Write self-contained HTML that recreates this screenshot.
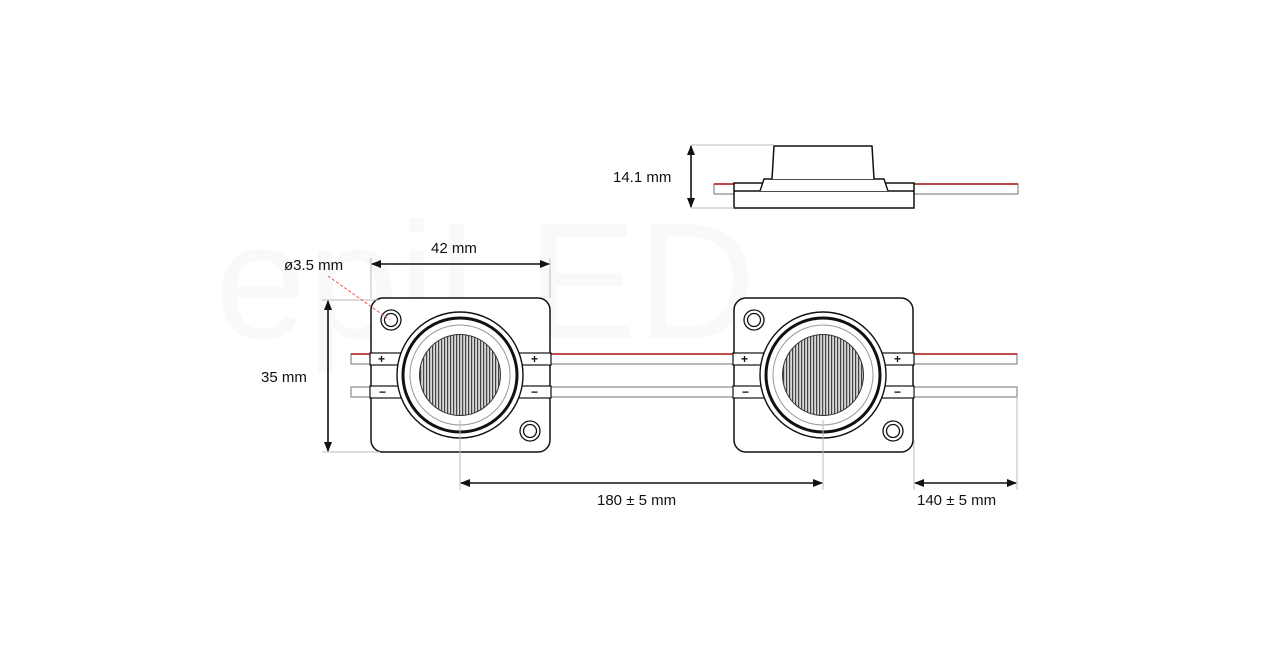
<!DOCTYPE html>
<html><head><meta charset="utf-8"><style>
html,body{margin:0;padding:0;background:#fff;}
svg{display:block;}
text{font-family:"Liberation Sans",sans-serif;font-size:15px;fill:#111;}
</style></head><body>
<svg width="1280" height="652" viewBox="0 0 1280 652" xmlns="http://www.w3.org/2000/svg">
<defs>
<pattern id="st" width="3" height="10" patternUnits="userSpaceOnUse">
<rect width="3" height="10" fill="#d8d8d8"/><rect width="1.2" height="10" fill="#444"/>
</pattern>
<marker id="ar" markerWidth="10" markerHeight="8" refX="9" refY="4" orient="auto-start-reverse" markerUnits="userSpaceOnUse">
<path d="M0,0 L10,4 L0,8 Z" fill="#111"/>
</marker>
<g id="mod">
<rect x="371" y="298" width="179" height="154" rx="12" fill="#fff" stroke="#111" stroke-width="1.5"/>
<circle cx="391" cy="320" r="10" fill="none" stroke="#111" stroke-width="1.3"/>
<circle cx="391" cy="320" r="6.5" fill="none" stroke="#111" stroke-width="1.3"/>
<circle cx="530" cy="431" r="10" fill="none" stroke="#111" stroke-width="1.3"/>
<circle cx="530" cy="431" r="6.5" fill="none" stroke="#111" stroke-width="1.3"/>
<rect x="370" y="353" width="32" height="12" fill="#fff" stroke="#111" stroke-width="1.2"/>
<rect x="370" y="386" width="32" height="12" fill="#fff" stroke="#111" stroke-width="1.2"/>
<rect x="519" y="353" width="32" height="12" fill="#fff" stroke="#111" stroke-width="1.2"/>
<rect x="519" y="386" width="32" height="12" fill="#fff" stroke="#111" stroke-width="1.2"/>
<text x="378" y="363" style="font-size:12px;font-weight:bold">+</text>
<text x="531" y="363" style="font-size:12px;font-weight:bold">+</text>
<text x="379" y="396" style="font-size:12px;font-weight:bold">−</text>
<text x="531" y="396" style="font-size:12px;font-weight:bold">−</text>
<circle cx="460" cy="375" r="63" fill="#fff" stroke="#111" stroke-width="1.4"/>
<circle cx="460" cy="375" r="57" fill="none" stroke="#111" stroke-width="3"/>
<circle cx="460" cy="375" r="50" fill="none" stroke="#999" stroke-width="1"/>
<circle cx="460" cy="375" r="40.5" fill="url(#st)" stroke="#333" stroke-width="1"/>
</g>
</defs>

<text x="215" y="338" style="font-size:165px;fill:#f8f9f9">epiLED</text>

<!-- wires -->
<g stroke-width="1.2">
<rect x="351" y="354" width="666" height="10" fill="#fff" stroke="#888"/>
<line x1="351" y1="354" x2="1017" y2="354" stroke="#b21a1a" stroke-width="1.4"/>
<rect x="351" y="387" width="666" height="10" fill="#fff" stroke="#888"/>
</g>

<use href="#mod"/>
<use href="#mod" transform="translate(363,0)"/>

<!-- side view -->
<rect x="714" y="184" width="304" height="10" fill="#fff" stroke="#888" stroke-width="1.2"/>
<line x1="714" y1="184" x2="1018" y2="184" stroke="#b21a1a" stroke-width="1.4"/>
<rect x="734" y="183" width="180" height="25" fill="#fff" stroke="#111" stroke-width="1.5"/>
<line x1="734" y1="191" x2="914" y2="191" stroke="#111" stroke-width="1.4"/>
<path d="M760,191 L764,179 L884,179 L888,191" fill="#fff" stroke="#111" stroke-width="1.4"/>
<path d="M772,179 L774,146 L872,146 L874,179" fill="#fff" stroke="#111" stroke-width="1.5"/>

<!-- dimensions -->
<g stroke="#bbb" stroke-width="1">
<line x1="691" y1="145" x2="774" y2="145"/>
<line x1="691" y1="208" x2="734" y2="208"/>
<line x1="371" y1="258" x2="371" y2="298"/>
<line x1="550" y1="258" x2="550" y2="298"/>
<line x1="322" y1="300" x2="380" y2="300"/>
<line x1="322" y1="452" x2="380" y2="452"/>
<line x1="460" y1="420" x2="460" y2="490"/>
<line x1="823" y1="420" x2="823" y2="490"/>
<line x1="914" y1="440" x2="914" y2="490"/>
<line x1="1017" y1="397" x2="1017" y2="490"/>
</g>
<g stroke="#111" stroke-width="1.6">
<line x1="691" y1="146" x2="691" y2="207" marker-start="url(#ar)" marker-end="url(#ar)"/>
<line x1="372" y1="264" x2="549" y2="264" marker-start="url(#ar)" marker-end="url(#ar)"/>
<line x1="328" y1="301" x2="328" y2="451" marker-start="url(#ar)" marker-end="url(#ar)"/>
<line x1="461" y1="483" x2="822" y2="483" marker-start="url(#ar)" marker-end="url(#ar)"/>
<line x1="915" y1="483" x2="1016" y2="483" marker-start="url(#ar)" marker-end="url(#ar)"/>
</g>
<line x1="328" y1="276" x2="390" y2="320" stroke="#e55" stroke-width="1" stroke-dasharray="3,2"/>

<text x="613" y="182">14.1 mm</text>
<text x="431" y="253">42 mm</text>
<text x="284" y="270">ø3.5 mm</text>
<text x="261" y="382">35 mm</text>
<text x="597" y="505">180 ± 5 mm</text>
<text x="917" y="505">140 ± 5 mm</text>
</svg>
</body></html>
